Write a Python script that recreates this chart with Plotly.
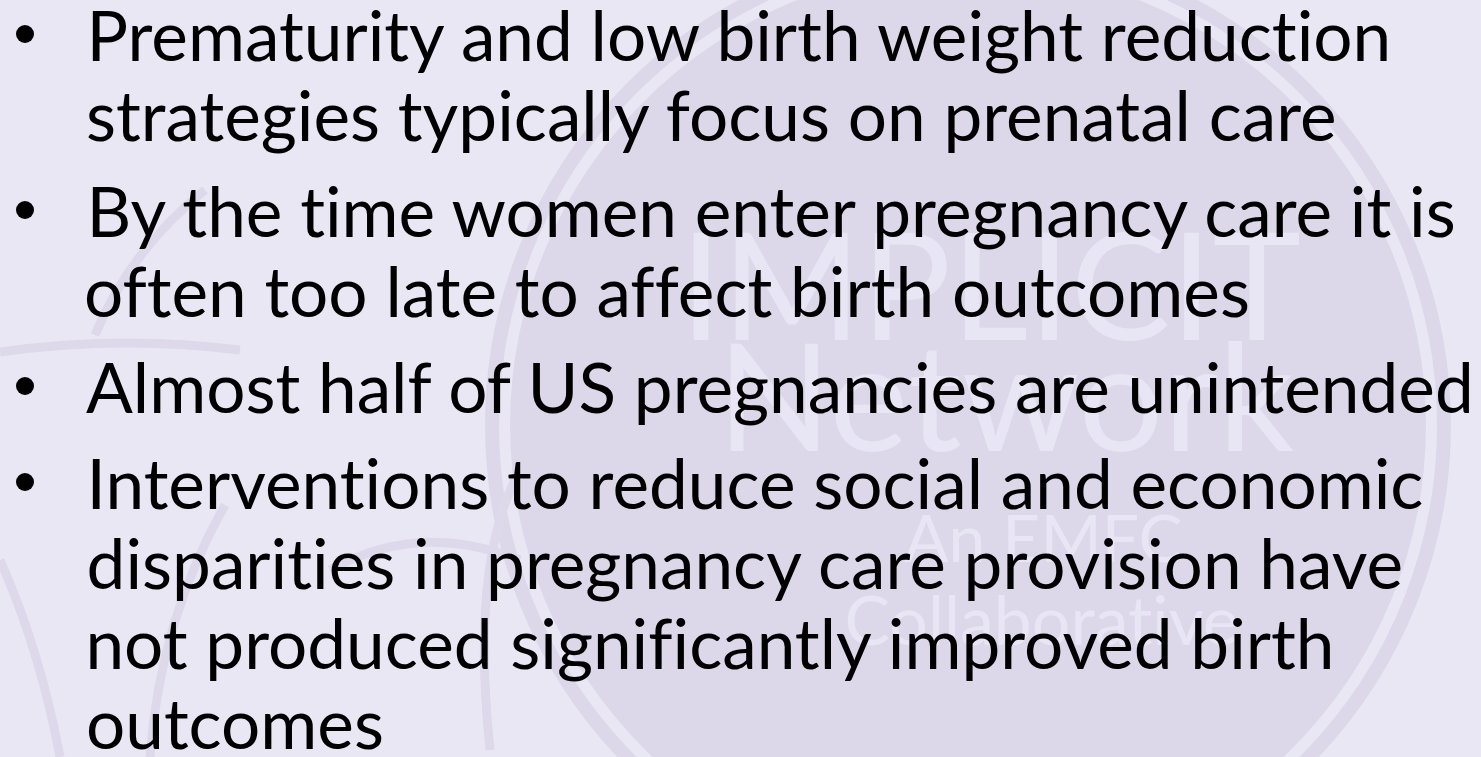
import plotly.graph_objects as go

# ---- slide content ----
bullets = [
    ["Prematurity and low birth weight reduction",
     "strategies typically focus on prenatal care"],
    ["By the time women enter pregnancy care it is",
     "often too late to affect birth outcomes"],
    ["Almost half of US pregnancies are unintended"],
    ["Interventions to reduce social and economic",
     "disparities in pregnancy care provision have",
     "not produced significantly improved birth",
     "outcomes"],
]
watermark_lines = ["IMPLICIT", "Network", "An EMFC", "Collaborative"]
watermark_sizes = [150, 150, 66, 68]

# ---- layout constants (pixels) ----
W, H = 1481, 757
BG = "#EAE7F5"
DISK = "#DCD8EA"
WM_TEXT = "#E8E5F4"
FONT = "Lato"
FS = 69.3
TEXT_X = 84
BULLET_X = 25
FIRST_BASELINE = 61
LINE_GAP = 80
BULLET_GAP = 96

fig = go.Figure()

# watermark disk and ring
cx, cy = 968, 425
shapes = [
    dict(type="circle", xref="x", yref="y", x0=cx - 458, x1=cx + 458, y0=cy - 458, y1=cy + 458,
         fillcolor=DISK, line=dict(width=0), layer="below"),
    dict(type="circle", xref="x", yref="y", x0=cx - 476, x1=cx + 476, y0=cy - 476, y1=cy + 476,
         fillcolor="rgba(0,0,0,0)", line=dict(color=DISK, width=14), layer="below"),
]
# faint figure art curves on the left
art_paths = [
    "M 0 352 Q 120 335 240 350",
    "M 205 190 Q 130 250 95 335",
    "M 0 560 Q 40 650 60 757",
    "M 225 505 Q 160 620 150 757",
    "M 520 470 Q 470 560 490 750",
    "M 330 570 Q 420 520 520 560",
]
for p in art_paths:
    shapes.append(dict(type="path", path=p, xref="x", yref="y",
                       line=dict(color="#DDD9EB", width=9), layer="below"))

annotations = []
wm_y = [282, 393, 536, 618]
wm_x = [990, 1005, 1043, 1041]
for txt, sz, yy, xx in zip(watermark_lines, watermark_sizes, wm_y, wm_x):
    annotations.append(dict(text=txt, x=xx, y=yy, xref="x", yref="y", showarrow=False,
                            xanchor="center", yanchor="middle",
                            font=dict(family=FONT, size=sz, color=WM_TEXT)))

# bullet text
bx, by = [], []
baseline = FIRST_BASELINE
for bi, lines in enumerate(bullets):
    if bi > 0:
        baseline += BULLET_GAP
    for li, line in enumerate(lines):
        if li > 0:
            baseline += LINE_GAP
        if li == 0:
            bx.append(BULLET_X)
            by.append(baseline - 27)
        annotations.append(dict(text=line, x=TEXT_X, y=baseline - 0.387 * FS, xref="x", yref="y",
                                showarrow=False, xanchor="left", yanchor="middle",
                                font=dict(family=FONT, size=FS, color="#000000")))

fig.add_trace(go.Scatter(x=bx, y=by, mode="markers", hoverinfo="skip",
                         marker=dict(size=18, color="#000000"), showlegend=False))

fig.update_layout(
    width=W, height=H,
    margin=dict(l=0, r=0, t=0, b=0),
    paper_bgcolor=BG, plot_bgcolor=BG,
    xaxis=dict(range=[0, W], visible=False, fixedrange=True),
    yaxis=dict(range=[H, 0], visible=False, fixedrange=True),
    shapes=shapes, annotations=annotations,
)

post = (
    "document.body.style.margin='0';"
    "document.body.style.background='" + BG + "';"
    "var s=document.createElement('style');"
    "s.textContent='text{font-variant-ligatures:none;font-feature-settings:\"liga\" 0;}';"
    "document.head.appendChild(s);"
)
fig.write_html("out.html", config={"displayModeBar": False}, post_script=post)
